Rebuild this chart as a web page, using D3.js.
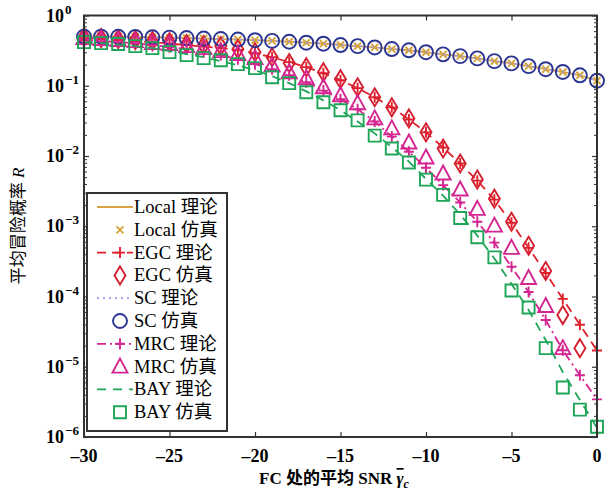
<!DOCTYPE html>
<meta charset="utf-8">
<script src="https://d3js.org/d3.v7.min.js"></script>
<style>
  body { margin: 0; background: #fff; }
  text { font-family: "Liberation Serif", "Times New Roman", "Noto Sans CJK SC", serif; }
</style>
<div id="my_dataviz"></div>
<script>

// x values (dB)
var snr = [-30,-29,-28,-27,-26,-25,-24,-23,-22,-21,-20,-19,-18,-17,-16,-15,-14,-13,-12,-11,-10,-9,-8,-7,-6,-5,-4,-3,-2,-1,0];

// Local (and SC, they coincide)
var localTheory = [0.50,0.50,0.498,0.495,0.49,0.485,0.478,0.47,0.462,0.455,0.445,0.435,0.423,0.41,0.397,0.38,0.366,0.351,0.333,0.32,0.30,0.28,0.264,0.245,0.224,0.208,0.19,0.172,0.157,0.141,0.118];
var localSim    = [0.50,0.50,0.498,0.495,0.49,0.485,0.478,0.47,0.462,0.455,0.445,0.435,0.423,0.41,0.397,0.38,0.366,0.351,0.333,0.32,0.30,0.28,0.264,0.245,0.224,0.208,0.19,0.172,0.157,0.141,0.118];
var scTheory    = [0.50,0.50,0.498,0.495,0.49,0.485,0.478,0.47,0.462,0.455,0.445,0.435,0.423,0.41,0.397,0.38,0.366,0.351,0.333,0.32,0.30,0.28,0.264,0.245,0.224,0.208,0.19,0.172,0.157,0.141,0.118];
var scSim       = [0.50,0.50,0.498,0.495,0.49,0.485,0.478,0.47,0.462,0.455,0.445,0.435,0.423,0.41,0.397,0.38,0.366,0.351,0.333,0.32,0.30,0.28,0.264,0.245,0.224,0.208,0.19,0.172,0.157,0.141,0.118];

var egcTheory = [0.477,0.462,0.447,0.432,0.418,0.398,0.379,0.361,0.343,0.322,0.291,0.255,0.217,0.184,0.151,0.120,0.0924,0.0685,0.0493,0.0331,0.0217,0.0132,0.00781,0.00446,0.00239,0.00112,0.000493,0.000216,0.0000925,0.0000397,0.0000170];
var egcSim    = [0.493,0.477,0.462,0.447,0.432,0.418,0.392,0.379,0.367,0.332,0.301,0.255,0.210,0.184,0.156,0.124,0.0952,0.0685,0.0493,0.0343,0.0217,0.0128,0.00781,0.00462,0.00247,0.00116,0.000527,0.000231,0.0000544,0.0000184,null];

var mrcTheory = [0.447,0.432,0.418,0.405,0.379,0.355,0.332,0.301,0.273,0.239,0.203,0.172,0.141,0.112,0.0853,0.0643,0.0463,0.0310,0.0189,0.0115,0.00682,0.00385,0.00218,0.00116,0.000584,0.000265,0.000116,0.0000462,0.0000172,0.00000756,0.00000343];
var mrcSim    = [0.477,0.462,0.447,0.432,0.405,0.392,0.367,0.343,0.311,0.282,0.247,0.196,0.156,0.128,0.0952,0.0734,0.0562,0.0343,0.0247,0.0156,0.00953,0.00563,0.00333,0.00177,0.00102,0.000493,0.000183,0.0000734,0.0000184,null,null];

var bayTheory = [0.418,0.405,0.385,0.367,0.343,0.311,0.282,0.255,0.224,0.196,0.166,0.137,0.109,0.0832,0.0620,0.0448,0.0310,0.0210,0.0133,0.00834,0.00471,0.00272,0.00147,0.000735,0.000348,0.000151,0.0000642,0.0000240,0.00000839,0.00000336,0.00000135];
var baySim    = [0.418,0.405,0.392,0.367,0.343,0.301,0.273,0.247,0.231,0.203,0.178,0.132,0.109,0.0809,0.0581,0.0448,0.0321,0.0195,0.0128,0.00809,0.00461,0.00280,0.00131,0.000696,0.000360,0.000122,0.0000698,0.0000184,0.00000507,0.00000245,0.00000140];

var xTicks = [-30,-25,-20,-15,-10,-5,0];
var yDecades = [0,-1,-2,-3,-4,-5,-6];

// series styles, in legend order
var series = [
  {label: "Local 理论", values: localTheory, color: "#dba244", line: true,  dash: null,         marker: null},
  {label: "Local 仿真", values: localSim,    color: "#d4a33c", line: false, dash: null,         marker: "x"},
  {label: "EGC 理论",   values: egcTheory,   color: "#e0202c", line: true,  dash: "9,6",        marker: "plus"},
  {label: "EGC 仿真",   values: egcSim,      color: "#d42030", line: false, dash: null,         marker: "diamond"},
  {label: "SC 理论",    values: scTheory,    color: "#9a9ae8", line: true,  dash: "2,4",        marker: null},
  {label: "SC 仿真",    values: scSim,       color: "#2b3590", line: false, dash: null,         marker: "circle"},
  {label: "MRC 理论",   values: mrcTheory,   color: "#d42590", line: true,  dash: "9,4,2,4",    marker: "plus"},
  {label: "MRC 仿真",   values: mrcSim,      color: "#d42590", line: false, dash: null,         marker: "triangle"},
  {label: "BAY 理论",   values: bayTheory,   color: "#1ea558", line: true,  dash: "9,7",        marker: null},
  {label: "BAY 仿真",   values: baySim,      color: "#1ea558", line: false, dash: null,         marker: "square"}
];

var markerPath = {
  x: "M-3.5,-3.5L3.5,3.5M-3.5,3.5L3.5,-3.5",
  plus: "M-5,0L5,0M0,-5.5L0,5.5",
  diamond: "M0,-9L5.5,0L0,9L-5.5,0Z",
  circle: "M7,0A7,7 0 1,1 -7,0A7,7 0 1,1 7,0Z",
  triangle: "M0,-8L7.5,6L-7.5,6Z",
  square: "M-6,-6L6,-6L6,6L-6,6Z"
};

var margin = {top: 15.5, right: 11, bottom: 64, left: 84},
  width = 608 - margin.left - margin.right,
  height = 501 - margin.top - margin.bottom;

var root = d3.select("#my_dataviz").append("svg")
  .attr("width", 608).attr("height", 501);
var svg = root.append("g")
  .attr("transform", "translate(" + margin.left + "," + margin.top + ")");

var x = d3.scaleLinear().domain([-30, 0]).range([0, width]);
var y = d3.scaleLog().domain([1e-6, 1]).range([height, 0]);

// minor ticks for the log axis
var minor = [];
yDecades.slice(1).forEach(function(k) {
  for (var m = 2; m <= 9; m++) minor.push(m * Math.pow(10, k));
});

var axisColor = "#333";

// x axis ticks (inward, bottom and top)
svg.append("g").attr("transform", "translate(0," + height + ")")
  .call(d3.axisBottom(x).tickValues(xTicks).tickSize(-5).tickFormat(""))
  .call(function(g) { g.select(".domain").remove(); g.selectAll("line").attr("stroke", axisColor).attr("stroke-width", 1.2); });
svg.append("g")
  .call(d3.axisTop(x).tickValues(xTicks).tickSize(-5).tickFormat(""))
  .call(function(g) { g.select(".domain").remove(); g.selectAll("line").attr("stroke", axisColor).attr("stroke-width", 1.2); });

// y axis ticks (left and right)
[[d3.axisLeft, 0], [d3.axisRight, width]].forEach(function(a) {
  svg.append("g").attr("transform", "translate(" + a[1] + ",0)")
    .call(a[0](y).tickValues(yDecades.map(function(k) { return Math.pow(10, k); })).tickSize(-5).tickFormat(""))
    .call(function(g) { g.select(".domain").remove(); g.selectAll("line").attr("stroke", axisColor).attr("stroke-width", 1.2); });
  svg.append("g").attr("transform", "translate(" + a[1] + ",0)")
    .call(a[0](y).tickValues(minor).tickSize(-3).tickFormat(""))
    .call(function(g) { g.select(".domain").remove(); g.selectAll("line").attr("stroke", axisColor).attr("stroke-width", 1); });
});

// x tick labels
svg.selectAll(".xlab").data(xTicks).enter().append("text")
  .attr("x", function(d) { return x(d); })
  .attr("y", height + 25)
  .attr("text-anchor", "middle")
  .style("font-size", "18px").style("font-weight", "bold")
  .text(function(d) { return d < 0 ? "\u2013" + Math.abs(d) : d; });

// y tick labels, 10^k
var ylab = svg.selectAll(".ylab").data(yDecades).enter().append("text")
  .attr("x", -20)
  .attr("y", function(d) { return y(Math.pow(10, d)) + 6; })
  .attr("text-anchor", "end")
  .style("font-size", "18px").style("font-weight", "bold")
  .text("10");
ylab.each(function(d) {
  d3.select(this.parentNode).append("text")
    .attr("x", -19)
    .attr("y", y(Math.pow(10, d)) - 2)
    .style("font-size", "13px").style("font-weight", "bold")
    .text(d < 0 ? "\u2212" + Math.abs(d) : d);
});

// curves
var line = d3.line()
  .defined(function(d) { return d[1] != null; })
  .x(function(d) { return x(d[0]); })
  .y(function(d) { return y(d[1]); });

series.forEach(function(s) {
  var pts = snr.map(function(v, i) { return [v, s.values[i]]; });
  if (s.line) {
    svg.append("path").datum(pts)
      .attr("fill", "none")
      .attr("stroke", s.color)
      .attr("stroke-width", 1.8)
      .attr("stroke-dasharray", s.dash)
      .attr("d", line);
  }
  if (s.marker) {
    svg.append("g").selectAll("path")
      .data(pts.filter(function(d) { return d[1] != null; }))
      .enter().append("path")
      .attr("transform", function(d) { return "translate(" + x(d[0]) + "," + y(d[1]) + ")"; })
      .attr("d", markerPath[s.marker])
      .attr("fill", "none")
      .attr("stroke", s.color)
      .attr("stroke-width", 1.9);
  }
});

// frame
svg.append("rect").attr("width", width).attr("height", height)
  .attr("fill", "none").attr("stroke", axisColor).attr("stroke-width", 2);

// legend
var leg = root.append("g").attr("transform", "translate(87,193)");
leg.append("rect").attr("width", 140).attr("height", 238)
  .attr("fill", "#fff").attr("stroke", axisColor).attr("stroke-width", 2);
series.forEach(function(s, i) {
  var ly = 14 + i * 22.8;
  if (s.line) {
    leg.append("line").attr("x1", 10).attr("x2", 46).attr("y1", ly).attr("y2", ly)
      .attr("stroke", s.color).attr("stroke-width", 1.8).attr("stroke-dasharray", s.dash);
  }
  if (s.marker) {
    leg.append("path").attr("transform", "translate(33," + ly + ")")
      .attr("d", markerPath[s.marker]).attr("fill", "none")
      .attr("stroke", s.color).attr("stroke-width", 1.9);
  }
  leg.append("text").attr("x", 47).attr("y", ly + 6)
    .style("font-size", "18.5px").text(s.label);
});

// axis titles
var xt = root.append("text")
  .attr("x", 334).attr("y", 484)
  .attr("text-anchor", "middle")
  .style("font-size", "17px").style("font-weight", "bold");
xt.append("tspan").text("FC 处的平均 SNR ");
xt.append("tspan").style("font-style", "italic").style("text-decoration", "overline").text("\u03b3");
xt.append("tspan").attr("dy", 4).style("font-style", "italic").style("font-size", "12px").text("c");

var yt = root.append("text")
  .attr("transform", "translate(24,226) rotate(-90)")
  .attr("text-anchor", "middle")
  .style("font-size", "17px");
yt.append("tspan").text("平均冒险概率 ");
yt.append("tspan").style("font-style", "italic").text("R");

</script>
